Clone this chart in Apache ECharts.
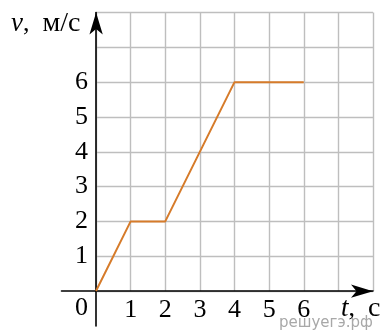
<!DOCTYPE html>
<html>
<head>
<meta charset="utf-8">
<script src="https://cdn.jsdelivr.net/npm/echarts@6/dist/echarts.min.js"></script>
<style>
  html, body { margin: 0; padding: 0; background: #fff; }
  #main { width: 384px; height: 331px; }
</style>
</head>
<body>
<div id="main"></div>
<script>
const tValues = [0, 1, 2, 4, 6]
const vValues = [0, 2, 2, 6, 6]
const xTickLabels = [1, 2, 3, 4, 5, 6]
const yTickLabels = [1, 2, 3, 4, 5, 6]
const originLabel = '0'
const yVar = 'v'
const yUnit = 'м/с'
const xVar = 't'
const xUnit = 'с'
const watermark = 'решуегэ.рф'

const serif = 'Liberation Serif'
const chart = echarts.init(document.getElementById('main'))

const nameRich = {
  i: { fontFamily: serif, fontStyle: 'italic', fontSize: 27, fill: '#000' },
  c: { fontFamily: serif, fontSize: 26, fill: '#000', padding: [0, 13, 0, 0] },
  n: { fontFamily: serif, fontSize: 28, fill: '#000' }
}

chart.setOption({
  animation: false,
  grid: [
    // positive quadrant: grid lines, labels, data
    { left: 96, right: 11, top: 12.5, bottom: 40, outerBoundsMode: 'none', containLabel: false },
    // axes with arrows, extending one unit past the origin
    { left: 61.5, right: 11, top: 12.5, bottom: 5, outerBoundsMode: 'none', containLabel: false }
  ],
  xAxis: [{
    gridIndex: 0, type: 'value', min: 0, max: 8, interval: 1,
    axisLine: { show: false }, axisTick: { show: false },
    axisLabel: {
      margin: 6, fontFamily: serif, fontSize: 26, color: '#000',
      formatter: v => xTickLabels.includes(v) ? String(v) : ''
    },
    splitLine: { show: true, lineStyle: { color: '#bebebe', width: 1.4 } }
  }, {
    gridIndex: 1, type: 'value', min: -1, max: 8, interval: 1,
    axisLine: { show: true, onZero: true, symbol: ['none', 'arrow'], symbolSize: [10, 22],
      lineStyle: { color: '#000', width: 1.6 } },
    axisTick: { show: false }, axisLabel: { show: false }, splitLine: { show: false }
  }],
  yAxis: [{
    gridIndex: 0, type: 'value', min: 0, max: 8, interval: 1,
    axisLine: { show: false }, axisTick: { show: false },
    axisLabel: {
      margin: 8, fontFamily: serif, fontSize: 26, color: '#000',
      formatter: v => yTickLabels.includes(v) ? String(v) : ''
    },
    splitLine: { show: true, lineStyle: { color: '#bebebe', width: 1.4 } }
  }, {
    gridIndex: 1, type: 'value', min: -1, max: 8, interval: 1,
    axisLine: { show: true, onZero: true, symbol: ['none', 'arrow'], symbolSize: [10, 22],
      lineStyle: { color: '#000', width: 1.6 } },
    axisTick: { show: false }, axisLabel: { show: false }, splitLine: { show: false }
  }],
  series: [{
    type: 'line',
    xAxisIndex: 0, yAxisIndex: 0,
    data: tValues.map((t, i) => [t, vValues[i]]),
    showSymbol: false,
    lineStyle: { color: '#d67b2a', width: 2 }
  }],
  graphic: [{
    type: 'text', left: 11, top: 10,
    style: { text: `{i|${yVar}}{c|,}{n|${yUnit}}`, rich: nameRich }
  }, {
    type: 'text', left: 341, top: 295,
    style: { text: `{i|${xVar}}{c|,}{n|${xUnit}}`, rich: nameRich }
  }, {
    type: 'text', left: 75, top: 295,
    style: { text: originLabel, fontFamily: serif, fontSize: 26, fill: '#000' }
  }, {
    type: 'text', left: 279, top: 316,
    style: { text: watermark, fontFamily: 'DejaVu Sans', fontSize: 15, fill: '#a8a8a8' }
  }]
})
</script>
</body>
</html>
